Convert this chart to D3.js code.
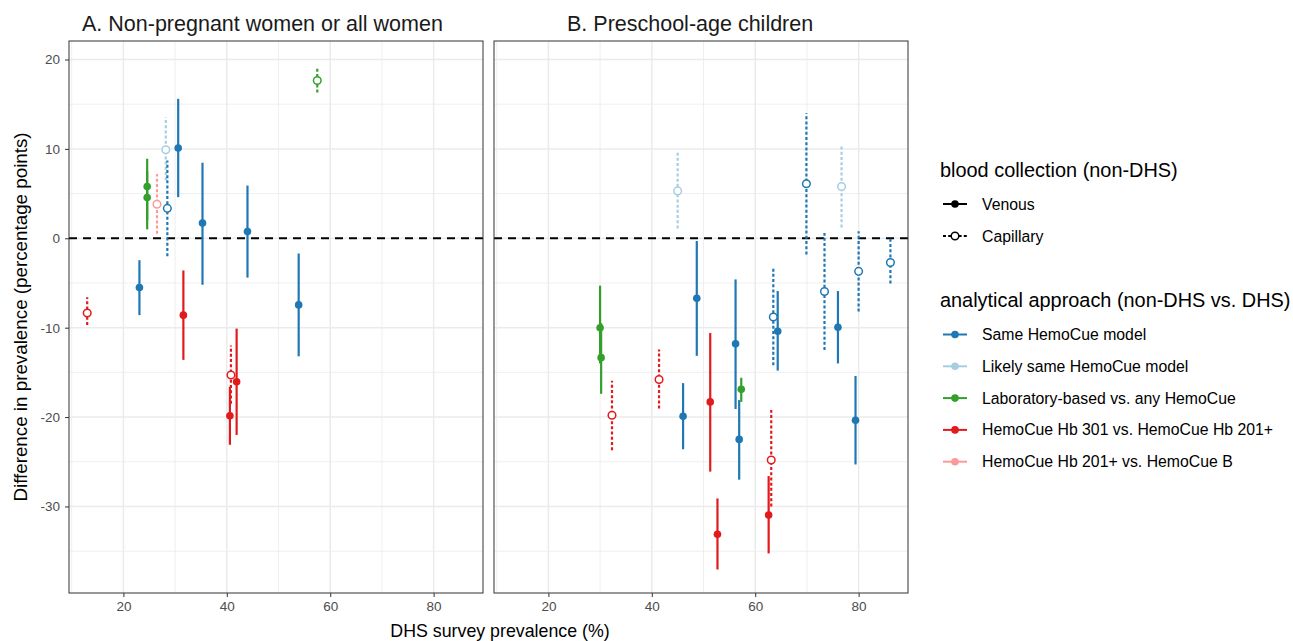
<!DOCTYPE html>
<html><head><meta charset="utf-8">
<script src="https://cdn.jsdelivr.net/npm/d3@7"></script>
<style>body{margin:0;background:#fff;} text{font-family:"Liberation Sans",Arial,sans-serif;}</style>
</head><body>
<svg id="chart" width="1293" height="641"></svg>
<script>
// ---- data ----
const panelTitles = ["A. Non-pregnant women or all women", "B. Preschool-age children"];
const approaches = ["Same HemoCue model", "Likely same HemoCue model", "Laboratory-based vs. any HemoCue", "HemoCue Hb 301 vs. HemoCue Hb 201+", "HemoCue Hb 201+ vs. HemoCue B"];
const approachColors = ["#1f78b4", "#a6cee3", "#33a02c", "#e31a1c", "#fb9a99"];
const collections = ["Venous", "Capillary"];
const xTicks = [20, 40, 60, 80];
const yTicks = [20, 10, 0, -10, -20, -30];

// panel A (index 0): approach index, collection index
const aX    = [13.0, 23.1, 24.6, 24.6, 26.5, 28.2, 28.5, 30.6, 35.3, 44.0, 31.6, 53.9, 40.8, 40.6, 41.9, 57.5];
const aY    = [-8.35, -5.5, 5.8, 4.55, 3.8, 9.9, 3.35, 10.1, 1.7, 0.75, -8.6, -7.45, -15.3, -19.85, -16.05, 17.65];
const aLo   = [-9.7, -8.6, 2.0, 1.0, 0.5, 6.5, -2.0, 4.6, -5.2, -4.4, -13.6, -13.2, -18.5, -23.1, -22.0, 16.3];
const aHi   = [-6.6, -2.45, 8.9, 7.5, 7.2, 13.55, 8.7, 15.6, 8.45, 5.9, -3.6, -1.7, -12.0, -16.6, -10.1, 19.07];
const aAppr = [3, 0, 2, 2, 4, 1, 0, 0, 0, 0, 3, 0, 3, 3, 3, 2];
const aColl = [1, 0, 0, 0, 1, 1, 1, 0, 0, 0, 0, 0, 1, 0, 0, 1];

// panel B (index 1)
const bX    = [45.0, 48.7, 30.0, 30.2, 32.3, 41.4, 46.05, 51.3, 52.7, 56.2, 56.9, 57.3, 69.9, 76.7, 73.4, 80.0, 86.15, 63.5, 64.35, 76.0, 79.4, 63.1, 62.6];
const bY    = [5.3, -6.7, -10.0, -13.35, -19.8, -15.8, -19.9, -18.3, -33.1, -11.8, -22.5, -16.9, 6.1, 5.8, -5.95, -3.7, -2.7, -8.8, -10.4, -9.95, -20.35, -24.8, -30.95];
const bLo   = [1.1, -13.15, -14.0, -17.4, -23.7, -19.05, -23.6, -26.1, -37.05, -19.1, -27.0, -18.3, -1.8, 1.2, -12.5, -8.2, -5.05, -14.2, -14.8, -14.0, -25.3, -30.0, -35.25];
const bHi   = [9.65, -0.3, -5.3, -9.5, -15.95, -12.45, -16.2, -10.6, -29.1, -4.6, -18.1, -15.6, 14.0, 10.5, 0.6, 0.8, 0.0, -3.3, -5.9, -5.9, -15.4, -19.2, -26.6];
const bAppr = [1, 0, 2, 2, 3, 3, 0, 3, 3, 0, 0, 2, 0, 1, 0, 0, 0, 0, 0, 0, 0, 3, 3];
const bColl = [1, 0, 0, 0, 1, 1, 0, 0, 0, 0, 0, 0, 1, 1, 1, 1, 1, 1, 0, 0, 0, 1, 0];

// ---- layout ----
const svg = d3.select("#chart");
const panelTop = 41, panelBottom = 593, panelW = 414;
const panelLefts = [69, 494];
const titleX = [82, 567];
const y = d3.scaleLinear().domain([-39.68, 22.07]).range([panelBottom, panelTop]);
const minorY = [15, 5, -5, -15, -25, -35];
const minorX = [10, 30, 50, 70];
const capDash = "3,2.2";
const fmt = d => String(d);

function rows(X, Y, Lo, Hi, Ap, Co) {
  return X.map((v, i) => ({x: v, y: Y[i], lo: Lo[i], hi: Hi[i], a: Ap[i], c: Co[i]}));
}
const panelData = [rows(aX, aY, aLo, aHi, aAppr, aColl), rows(bX, bY, bLo, bHi, bAppr, bColl)];

panelLefts.forEach((left, p) => {
  const x = d3.scaleLinear().domain([9.48, 89.55]).range([left, left + panelW]);
  const g = svg.append("g");
  // grid
  g.selectAll(".minx").data(minorX).join("line")
    .attr("x1", d => x(d)).attr("x2", d => x(d)).attr("y1", panelTop).attr("y2", panelBottom)
    .attr("stroke", "#ebebeb").attr("stroke-width", 0.8);
  g.selectAll(".miny").data(minorY).join("line")
    .attr("y1", d => y(d)).attr("y2", d => y(d)).attr("x1", left).attr("x2", left + panelW)
    .attr("stroke", "#ebebeb").attr("stroke-width", 0.8);
  g.selectAll(".majx").data(xTicks).join("line")
    .attr("x1", d => x(d)).attr("x2", d => x(d)).attr("y1", panelTop).attr("y2", panelBottom)
    .attr("stroke", "#ebebeb").attr("stroke-width", 1.5);
  g.selectAll(".majy").data(yTicks).join("line")
    .attr("y1", d => y(d)).attr("y2", d => y(d)).attr("x1", left).attr("x2", left + panelW)
    .attr("stroke", "#ebebeb").attr("stroke-width", 1.5);
  // zero line
  g.append("line").attr("x1", left).attr("x2", left + panelW).attr("y1", y(0)).attr("y2", y(0))
    .attr("stroke", "#000").attr("stroke-width", 2).attr("stroke-dasharray", "8,6");
  // error bars
  const data = panelData[p];
  g.selectAll(".err").data(data).join("line")
    .attr("x1", d => x(d.x)).attr("x2", d => x(d.x)).attr("y1", d => y(d.lo)).attr("y2", d => y(d.hi))
    .attr("stroke", d => approachColors[d.a]).attr("stroke-width", 2.2)
    .attr("stroke-dasharray", d => d.c === 1 ? capDash : null);
  g.selectAll(".pt").data(data).join("circle")
    .attr("cx", d => x(d.x)).attr("cy", d => y(d.y))
    .attr("r", 3.8)
    .attr("fill", d => d.c === 1 ? "#fff" : approachColors[d.a])
    .attr("stroke", d => approachColors[d.a]).attr("stroke-width", d => d.c === 1 ? 1.5 : 0);
  // border
  g.append("rect").attr("x", left).attr("y", panelTop).attr("width", panelW).attr("height", panelBottom - panelTop)
    .attr("fill", "none").attr("stroke", "#333").attr("stroke-width", 1);
  // x axis
  const xa = g.append("g").attr("transform", `translate(0,${panelBottom})`)
    .call(d3.axisBottom(x).tickValues(xTicks).tickFormat(fmt).tickSize(4).tickPadding(4));
  xa.select(".domain").remove();
  xa.selectAll("line").attr("stroke", "#333").attr("stroke-width", 1);
  xa.selectAll("text").attr("fill", "#4d4d4d").style("font-size", "13.5px").style("font-family", "Liberation Sans, Arial, sans-serif");
  // y axis only on A
  if (p === 0) {
    const ya = g.append("g").attr("transform", `translate(${left},0)`)
      .call(d3.axisLeft(y).tickValues(yTicks).tickFormat(fmt).tickSize(4).tickPadding(5));
    ya.select(".domain").remove();
    ya.selectAll("line").attr("stroke", "#333").attr("stroke-width", 1);
    ya.selectAll("text").attr("fill", "#4d4d4d").style("font-size", "13.5px").style("font-family", "Liberation Sans, Arial, sans-serif");
  }
  // title
  svg.append("text").attr("x", titleX[p]).attr("y", 31).text(panelTitles[p])
    .style("font-size", "21.5px").attr("fill", "#1a1a1a");
});

// axis titles
svg.append("text").attr("x", 500).attr("y", 637).attr("text-anchor", "middle")
  .text("DHS survey prevalence (%)").style("font-size", "17.8px").attr("fill", "#000");
svg.append("text").attr("transform", `translate(27,317) rotate(-90)`).attr("text-anchor", "middle")
  .text("Difference in prevalence (percentage points)").style("font-size", "18.8px").attr("fill", "#000");

// legend
const lg = svg.append("g");
lg.append("text").attr("x", 940).attr("y", 177).text("blood collection (non-DHS)").style("font-size", "19.9px");
collections.forEach((c, i) => {
  const yy = 204 + i * 32;
  lg.append("line").attr("x1", 943).attr("x2", 967).attr("y1", yy).attr("y2", yy)
    .attr("stroke", "#000").attr("stroke-width", 2).attr("stroke-dasharray", i === 1 ? capDash : null);
  lg.append("circle").attr("cx", 955).attr("cy", yy).attr("r", 3.8)
    .attr("fill", i === 1 ? "#fff" : "#000").attr("stroke", "#000").attr("stroke-width", i === 1 ? 1.5 : 0);
  lg.append("text").attr("x", 982).attr("y", yy + 5.5).text(c).style("font-size", "15.8px").attr("fill", "#000");
});
lg.append("text").attr("x", 940).attr("y", 307).text("analytical approach (non-DHS vs. DHS)").style("font-size", "19.9px");
approaches.forEach((a, i) => {
  const yy = 334.5 + i * 31.8;
  lg.append("line").attr("x1", 943).attr("x2", 967).attr("y1", yy).attr("y2", yy)
    .attr("stroke", approachColors[i]).attr("stroke-width", 2);
  lg.append("circle").attr("cx", 955).attr("cy", yy).attr("r", 3.8).attr("fill", approachColors[i]);
  lg.append("text").attr("x", 982).attr("y", yy + 5.5).text(a).style("font-size", "15.8px").attr("fill", "#000");
});
</script>
</body></html>
